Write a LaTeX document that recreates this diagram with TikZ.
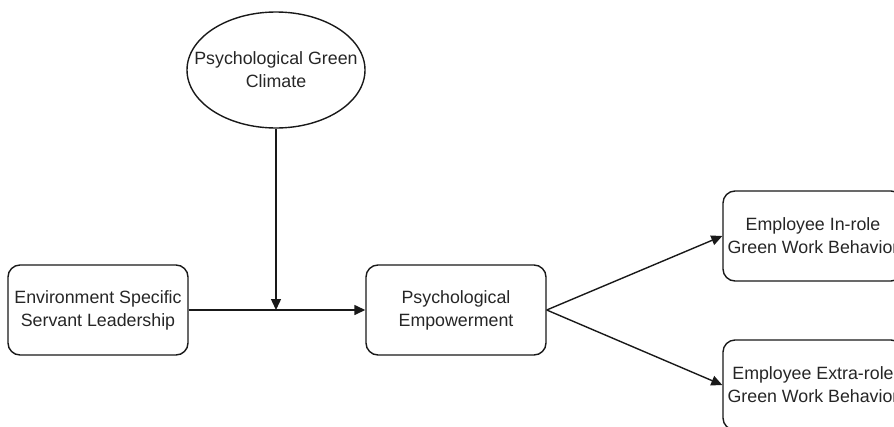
\documentclass[tikz,border=0pt]{standalone}
\usepackage{fontspec}
\setmainfont{Liberation Sans}
\usetikzlibrary{shapes.geometric,arrows.meta}
\begin{document}
\begin{tikzpicture}[x=1pt,y=-1pt,
  lbl/.style={align=center,font=\fontsize{17.8}{23}\selectfont,text=black!85,inner sep=0pt},
  box/.style={lbl,draw=black!90,line width=1.4pt,rounded corners=12pt,minimum width=180pt,minimum height=90pt},
  oval/.style={draw=black!90,line width=1.4pt,ellipse,minimum width=178pt,minimum height=116pt,inner sep=0pt},
  conn/.style={draw=black!90,line width=1.4pt,-{Triangle[length=11pt,width=10pt]}}]
\useasboundingbox (0,0) rectangle (894,426);
\clip (0,0) rectangle (894,426);
\node[oval] (climate) at (276,70) {};
\node[lbl] (climatetext) at (climate.center) {Psychological Green\\Climate};
\node[box] (esl) at (98,310) {Environment Specific\\Servant Leadership};
\node[box] (pe) at (456,310) {Psychological\\Empowerment};
\node[box] (inrole) at (813,236) {Employee In-role\\Green Work Behavior};
\node[box] (extra) at (813,385) {Employee Extra-role\\Green Work Behavior};
\coordinate (mid) at (276,310);
\draw[conn] (esl.east) -- (pe.west);
\draw[conn] (climate.south) -- (mid);
\draw[conn] (pe.east) -- (inrole.west);
\draw[conn] (pe.east) -- (extra.west);
\end{tikzpicture}
\end{document}
